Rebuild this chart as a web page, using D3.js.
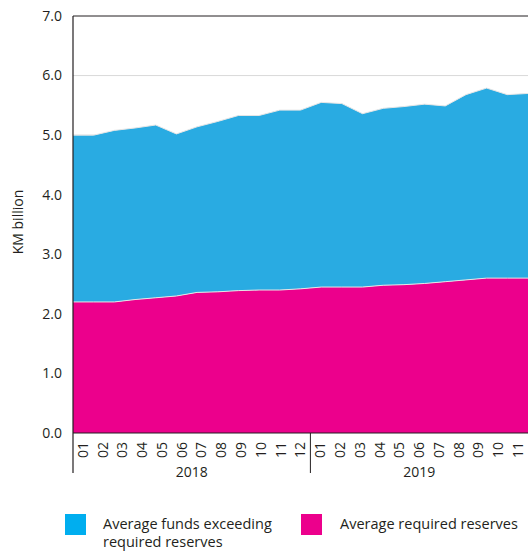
<!DOCTYPE html>
<html>
<head>
<meta charset="utf-8">
<script src="https://cdn.jsdelivr.net/npm/d3@7"></script>
<style>
  body { margin: 0; background: #fff; }
  svg text { font-family: "Open Sans", "Noto Sans", sans-serif; fill: #231f20; }
</style>
</head>
<body>
<div id="chart"></div>
<script>
const months = ["01","02","03","04","05","06","07","08","09","10","11","12",
                "01","02","03","04","05","06","07","08","09","10","11"];
const years = ["2018", "2019"];
const yearOf = months.map((m, i) => (i < 12 ? "2018" : "2019"));
// average required reserves (KM billion)
const required = [2.20, 2.20, 2.20, 2.24, 2.27, 2.30, 2.36, 2.37, 2.39, 2.40, 2.40, 2.42,
                  2.45, 2.45, 2.45, 2.48, 2.49, 2.51, 2.54, 2.57, 2.60, 2.60, 2.60];
// average funds exceeding required reserves (KM billion)
const excess = [2.80, 2.80, 2.88, 2.88, 2.90, 2.72, 2.78, 2.86, 2.94, 2.93, 3.02, 3.00,
                3.10, 3.08, 2.91, 2.97, 2.99, 3.01, 2.95, 3.11, 3.19, 3.08, 3.10];
const yTicks = [0, 1, 2, 3, 4, 5, 6, 7];

const W = 528, H = 553;
const MARGIN = { TOP: 16, LEFT: 73, RIGHT: 0, BOTTOM: 120 };
const innerW = W - MARGIN.LEFT - MARGIN.RIGHT;
const innerH = H - MARGIN.TOP - MARGIN.BOTTOM;

const rows = months.map((m, i) => ({ i, required: required[i], excess: excess[i] }));
const stack = d3.stack().keys(["required", "excess"])(rows);

const svg = d3.select("#chart").append("svg").attr("width", W).attr("height", H);
const g = svg.append("g").attr("transform", `translate(${MARGIN.LEFT},${MARGIN.TOP})`);

const x = d3.scalePoint().domain(d3.range(months.length)).range([0, innerW]);
const xBand = d3.scaleBand().domain(d3.range(months.length)).range([0, innerW]);
const y = d3.scaleLinear().domain([0, 7]).range([innerH, 0]);

// grid
g.selectAll(".grid").data(yTicks.slice(1, -1)).join("line")
  .attr("x1", 0).attr("x2", innerW)
  .attr("y1", d => y(d)).attr("y2", d => y(d))
  .attr("stroke", "#d9d9d9").attr("stroke-width", 1);

const colors = { required: "#ec008c", excess: "#29abe2" };
const area = d3.area().x(d => x(d.data.i)).y0(d => y(d[0])).y1(d => y(d[1]));
g.selectAll(".area").data(stack).join("path")
  .attr("d", area).attr("fill", d => colors[d.key]);

const line = d3.line().x(d => x(d.data.i)).y(d => y(d[1]));
g.selectAll(".edge").data(stack).join("path")
  .attr("d", line).attr("fill", "none")
  .attr("stroke", "#e6e6e6").attr("stroke-width", 1);

// frame
g.append("line").attr("x1", 0).attr("x2", innerW).attr("y1", y(7)).attr("y2", y(7))
  .attr("stroke", "#231f20").attr("stroke-width", 1);
g.append("line").attr("x1", 0).attr("x2", innerW).attr("y1", y(0)).attr("y2", y(0))
  .attr("stroke", "#231f20").attr("stroke-width", 1.2);
g.append("line").attr("x1", 0).attr("x2", 0).attr("y1", y(7)).attr("y2", innerH + 40)
  .attr("stroke", "#231f20").attr("stroke-width", 1.2);

// y axis labels
g.selectAll(".ylab").data(yTicks).join("text")
  .attr("x", -11).attr("y", d => y(d)).attr("dy", "0.35em")
  .attr("text-anchor", "end").style("font-size", "14px")
  .text(d => d.toFixed(1));

g.append("text")
  .attr("transform", `translate(-50,${222 - MARGIN.TOP}) rotate(-90)`)
  .attr("text-anchor", "middle").style("font-size", "14px")
  .text("KM billion");

// x month labels
g.selectAll(".xlab").data(months).join("text")
  .attr("transform", (d, i) => `translate(${xBand(i) + xBand.bandwidth() / 2},${innerH + 9}) rotate(-90)`)
  .attr("text-anchor", "end").attr("dy", "0.35em").style("font-size", "14px")
  .text(d => d);

// year separator and labels
g.append("line")
  .attr("x1", xBand(12)).attr("x2", xBand(12))
  .attr("y1", innerH).attr("y2", innerH + 40)
  .attr("stroke", "#231f20").attr("stroke-width", 1);
years.forEach(yr => {
  const idx = d3.range(months.length).filter(i => yearOf[i] === yr);
  const cx = (xBand(idx[0]) + xBand(idx[idx.length - 1]) + xBand.bandwidth()) / 2;
  g.append("text").attr("x", cx).attr("y", innerH + 44)
    .attr("text-anchor", "middle").style("font-size", "14px").text(yr);
});

// legend
const legend = svg.append("g");
const items = [
  { lines: ["Average funds exceeding", "required reserves"], color: "#00aeef", x: 65, tx: 103 },
  { lines: ["Average required reserves"], color: "#ec008c", x: 301, tx: 340 }
];
items.forEach(it => {
  legend.append("rect").attr("x", it.x).attr("y", 514).attr("width", 21).attr("height", 21).attr("fill", it.color);
  const t = legend.append("text").attr("x", it.tx).attr("y", 529).style("font-size", "14.5px");
  it.lines.forEach((l, k) => t.append("tspan").attr("x", it.tx).attr("dy", k ? 18 : 0).text(l));
});
</script>
</body>
</html>
